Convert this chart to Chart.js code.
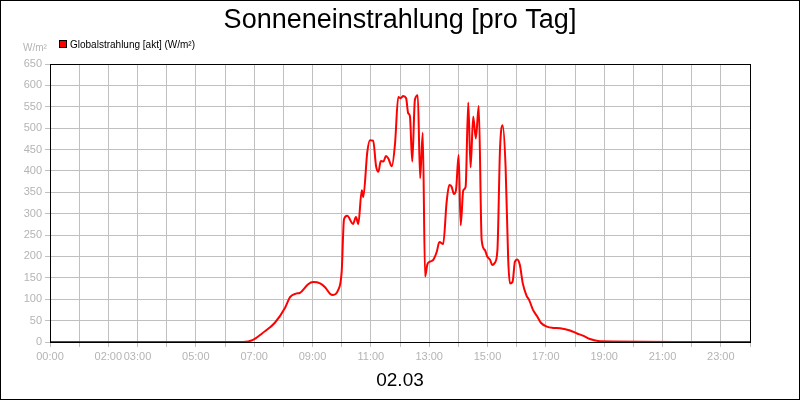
<!DOCTYPE html>
<html>
<head>
<meta charset="utf-8">
<script src="https://cdn.jsdelivr.net/npm/chart.js@4"></script>
<style>
  body { margin: 0; background: #fff; }
  #wrap { width: 800px; height: 400px; }
</style>
</head>
<body>
<div id="wrap"><canvas id="chart" width="800" height="400"></canvas></div>
<script>
//------ Data ------//
const hours = [0, 6.62, 6.96, 7.27, 7.71, 8.06, 8.23, 8.43, 8.57, 8.85, 9.02, 9.26, 9.43, 9.6, 9.7, 9.87,
  10.0, 10.08, 10.19, 10.39, 10.49, 10.57, 10.69, 10.74, 10.88, 10.97, 11.08, 11.18, 11.26, 11.34, 11.43,
  11.52, 11.6, 11.72, 11.83, 11.94, 12.02, 12.11, 12.21, 12.28, 12.34, 12.42, 12.51, 12.61, 12.69, 12.78,
  12.86, 12.94, 13.03, 13.14, 13.26, 13.35, 13.48, 13.6, 13.69, 13.77, 13.85, 13.92, 14.01, 14.08, 14.17,
  14.25, 14.34, 14.42, 14.51, 14.6, 14.7, 14.8, 14.91, 14.99, 15.09, 15.16, 15.25, 15.34, 15.43, 15.52,
  15.62, 15.71, 15.77, 15.86, 15.94, 16.02, 16.11, 16.21, 16.34, 16.43, 16.56, 16.7, 16.83, 17.04, 17.25,
  17.49, 17.83, 18.07, 18.27, 18.51, 18.86, 24];
const radiation = [0, 0, 5, 20, 45, 80, 105, 113, 115, 135, 140, 137, 128, 113, 110, 120,
  164, 287, 295, 276, 292, 276, 355, 339, 445, 472, 471, 411, 398, 423, 422,
  435, 429, 411, 464, 573, 570, 575, 570, 535, 528, 422, 566, 577, 383, 489, 153,
  182, 188, 192, 211, 234, 229, 328, 367, 363, 346, 355, 437, 273, 355, 363,
  560, 408, 527, 476, 552, 238, 215, 200, 192, 180, 185, 215, 453, 507,
  410, 192, 137, 141, 188, 193, 180, 137, 108, 98, 75, 60, 45, 36, 33, 32,
  27, 20, 15, 7, 2, 0, 0];
const tickHours = [0, 2, 3, 5, 7, 9, 11, 13, 15, 17, 19, 21, 23];
const dayLabel = '02.03';

const font = '"Liberation Sans", Arial, sans-serif';
const tickColor = '#b4b4b4';

//------ Frame, title, legend ------//
const decor = {
  id: 'decor',
  afterDraw(chart) {
    const c = chart.ctx;
    const a = chart.chartArea;
    c.save();
    c.strokeStyle = '#000';
    c.lineWidth = 1;
    c.strokeRect(0.5, 0.5, 799, 399);
    c.strokeRect(a.left + 0.5, a.top + 0.5, a.right - a.left, a.bottom - a.top);
    c.fillStyle = '#000';
    c.textAlign = 'center';
    c.textBaseline = 'alphabetic';
    c.font = '27px ' + font;
    c.fillText('Sonneneinstrahlung [pro Tag]', 400, 28);
    c.font = '19px ' + font;
    c.fillText(dayLabel, 400, 386);
    c.textAlign = 'left';
    c.font = '10px ' + font;
    c.fillStyle = '#000';
    c.fillText('Globalstrahlung [akt] (W/m²)', 70, 48);
    c.fillStyle = '#f00';
    c.fillRect(59, 40, 8, 8);
    c.strokeRect(59.5, 40.5, 7, 7);
    c.fillStyle = tickColor;
    c.fillText('W/m²', 23, 51);
    c.restore();
  }
};

new Chart(document.getElementById('chart'), {
  type: 'line',
  data: {
    datasets: [{
      label: 'Globalstrahlung [akt] (W/m²)',
      data: hours.map((h, i) => ({ x: h, y: radiation[i] })),
      borderColor: '#ff0000',
      borderWidth: 2,
      pointRadius: 0,
      cubicInterpolationMode: 'monotone',
      fill: false
    }]
  },
  options: {
    responsive: false,
    animation: false,
    layout: { padding: { top: 64, right: 50, left: 0, bottom: 0 } },
    plugins: { legend: { display: false }, title: { display: false }, tooltip: { enabled: false } },
    scales: {
      x: {
        type: 'linear', min: 0, max: 24,
        afterBuildTicks: (s) => { s.ticks = Array.from({ length: 25 }, (_, i) => ({ value: i })); },
        afterFit: (s) => { s.height = 58; },
        grid: { color: '#c0c0c0', tickLength: 5 },
        border: { color: '#000' },
        ticks: {
          autoSkip: false, maxRotation: 0, color: tickColor, font: { family: font, size: 11 },
          callback: (v) => tickHours.includes(v) ? String(v).padStart(2, '0') + ':00' : ''
        }
      },
      y: {
        min: 0, max: 650,
        afterFit: (s) => { s.width = 50; },
        grid: { color: '#c0c0c0', tickLength: 5 },
        border: { color: '#000' },
        ticks: { stepSize: 50, color: tickColor, font: { family: font, size: 11 } }
      }
    }
  },
  plugins: [decor]
});
</script>
</body>
</html>
